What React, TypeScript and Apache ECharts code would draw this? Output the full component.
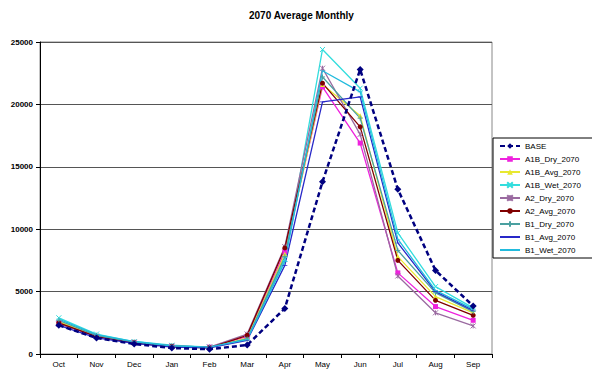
import React, { useEffect, useRef } from "react";
import * as echarts from "echarts";

const months = ["Oct", "Nov", "Dec", "Jan", "Feb", "Mar", "Apr", "May", "Jun", "Jul", "Aug", "Sep"];
const seriesNames = ["BASE", "A1B_Dry_2070", "A1B_Avg_2070", "A1B_Wet_2070", "A2_Dry_2070", "A2_Avg_2070", "B1_Dry_2070", "B1_Avg_2070", "B1_Wet_2070"];

const base = [2300, 1280, 800, 480, 380, 720, 3650, 13800, 22800, 13200, 6700, 3850];
const a1bDry = [2500, 1400, 900, 600, 550, 1400, 8200, 21400, 16900, 6500, 3800, 2700];
const a1bAvg = [2600, 1450, 900, 600, 500, 1300, 8000, 21600, 19100, 7800, 4600, 3300];
const a1bWet = [2900, 1600, 1000, 700, 550, 1200, 7600, 24400, 21300, 9700, 5400, 3700];
const a2Dry = [2400, 1450, 950, 650, 550, 1600, 8600, 22900, 17600, 6250, 3300, 2250];
const a2Avg = [2500, 1400, 900, 600, 500, 1500, 8500, 21700, 18200, 7500, 4300, 3100];
const b1Dry = [2700, 1500, 950, 650, 550, 1200, 7800, 22200, 18900, 8300, 4900, 3400];
const b1Avg = [2300, 1300, 850, 550, 500, 1100, 7100, 20200, 20600, 8900, 5000, 3500];
const b1Wet = [2800, 1550, 1000, 650, 550, 1150, 7400, 22700, 21000, 9200, 5100, 3600];

const seriesData = [base, a1bDry, a1bAvg, a1bWet, a2Dry, a2Avg, b1Dry, b1Avg, b1Wet];
const colors = ["#000080", "#ee22dd", "#e8e830", "#33dddd", "#9a6aa0", "#800000", "#4aa0a0", "#2828c8", "#22bbdd"];
const dashMark = "path://M0,0L0.01,0M0,4.4L10,4.4L10,5.6L0,5.6ZM0,10L0.01,10";
const symbols = [
  "diamond",
  "rect",
  "triangle",
  "path://M0,0L10,10M10,0L0,10",
  "path://M0,0L10,10M10,0L0,10M5,0L5,10",
  "circle",
  "path://M5,0L5,10M0,5L10,5",
  dashMark,
  dashMark,
];

export default function App() {
  const ref = useRef<HTMLDivElement>(null);
  useEffect(() => {
    if (!ref.current) return;
    const chart = echarts.init(ref.current, null, { renderer: "svg" });
    chart.setOption({
      animation: false,
      backgroundColor: "#ffffff",
      title: {
        text: "2070 Average Monthly",
        left: 244,
        top: 5,
        textStyle: { fontFamily: "Liberation Sans, Arial", fontSize: 10, fontWeight: "bold", color: "#000" },
      },
      grid: { left: 40, right: 100, top: 42, bottom: 19, show: true, borderColor: "#888", borderWidth: 1, backgroundColor: "transparent" },
      legend: {
        show: true,
        orient: "vertical",
        left: 493,
        top: 138,
        padding: [4, 18, 4, 6],
        itemWidth: 20,
        itemHeight: 7,
        itemGap: 5,
        borderColor: "#000",
        borderWidth: 1,
        textStyle: { fontFamily: "Liberation Sans, Arial", fontSize: 8, color: "#000" },
      },
      xAxis: {
        type: "category",
        data: months,
        boundaryGap: true,
        axisLine: { lineStyle: { color: "#000" } },
        axisTick: { show: true, interval: 0, lineStyle: { color: "#000" }, length: 4 },
        axisLabel: { fontFamily: "Liberation Sans, Arial", fontSize: 8, color: "#000", margin: 6 },
      },
      yAxis: {
        type: "value",
        min: 0,
        max: 25000,
        interval: 5000,
        axisLine: { show: true, lineStyle: { color: "#000" } },
        axisTick: { show: true, lineStyle: { color: "#000" }, length: 4 },
        axisLabel: { fontFamily: "Liberation Sans, Arial", fontSize: 8, fontWeight: "bold", color: "#000", margin: 7, formatter: (v: number) => String(v) },
        splitLine: { show: true, lineStyle: { color: "#555", width: 1 } },
      },
      series: seriesNames.map((name, i) => ({
        name,
        type: "line",
        data: seriesData[i],
        symbol: symbols[i],
        symbolSize: i === 0 ? 7 : 5,
        showAllSymbol: true,
        z: i === 0 ? 10 : 2,
        itemStyle: { color: colors[i], borderColor: colors[i], borderWidth: i === 3 || i === 4 || i === 6 ? 1 : 0 },
        lineStyle: { color: colors[i], width: i === 0 ? 2.5 : 1.3, type: i === 0 ? [5, 3] : "solid" },
      })),
    });
    return () => chart.dispose();
  }, []);
  return <div ref={ref} style={{ position: "absolute", left: 0, top: 0, width: 592, height: 373 }} />;
}
